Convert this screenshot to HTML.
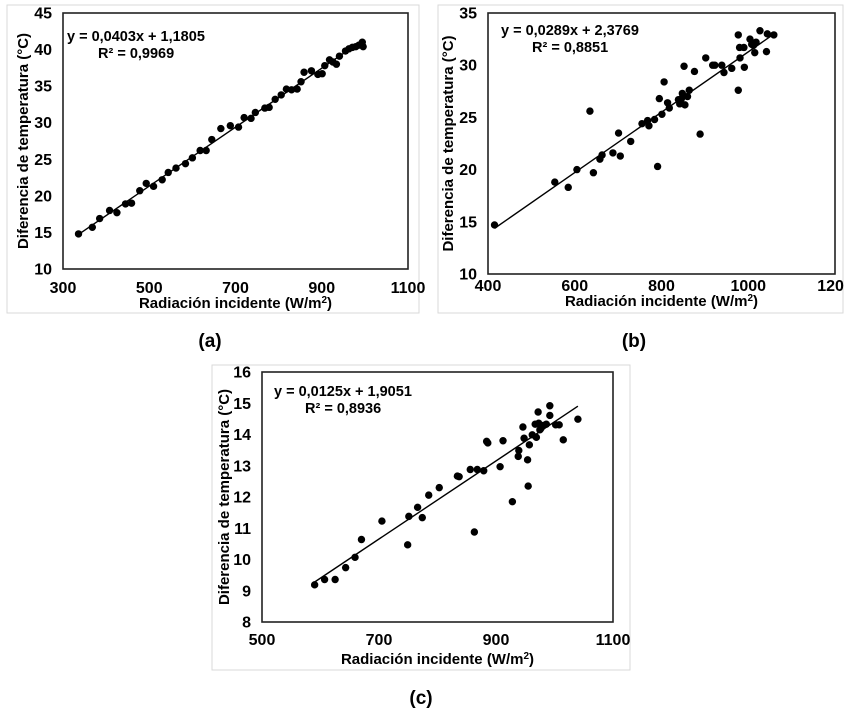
<!DOCTYPE html>
<html><head><meta charset="utf-8"><style>
html,body{margin:0;padding:0;background:#fff;}
svg{display:block;font-family:"Liberation Sans",Arial,sans-serif;font-weight:bold;}
</style></head><body>
<svg id="fig" width="844" height="712" viewBox="0 0 844 712" xmlns="http://www.w3.org/2000/svg">
<rect x="7" y="5" width="412" height="308" fill="none" stroke="#d9d9d9"/>
<rect x="438" y="5" width="405" height="308" fill="none" stroke="#d9d9d9"/>
<rect x="212" y="365" width="418" height="305" fill="none" stroke="#d9d9d9"/>
<text x="210" y="347" font-size="19" text-anchor="middle">(a)</text>
<text x="634" y="347" font-size="19" text-anchor="middle">(b)</text>
<text x="421" y="704" font-size="19" text-anchor="middle">(c)</text>
</svg>
<script>
const aX=[336,368,385,408,425,445,459,478,493,510,530,544,562,584,600,618,632,645,666,688,707,720,736,746,768,778,792,806,818,830,843,852,859,876,891,901,907,918,926,934,941,955,963,971,979,986,994,996];
const aY=[14.8,15.7,16.9,18.0,17.7,18.9,19.0,20.7,21.7,21.3,22.2,23.2,23.8,24.4,25.2,26.2,26.2,27.7,29.2,29.6,29.4,30.7,30.6,31.4,32.0,32.1,33.2,33.8,34.6,34.5,34.6,35.6,36.9,37.1,36.6,36.7,37.8,38.6,38.3,38.0,39.1,39.8,40.1,40.3,40.4,40.6,41.0,40.4];
const bX=[415,554,585,605,643,635,658,663,688,701,705,729,755,768,771,784,791,795,801,806,814,818,839,842,846,848,852,854,860,864,876,889,902,918,923,939,944,962,977,977,980,981,990,991,1004,1008,1015,1027,1042,1044,1059,1012,1018];
const bY=[14.7,18.8,18.3,20.0,19.7,25.6,21.0,21.4,21.6,23.5,21.3,22.7,24.4,24.7,24.2,24.8,20.3,26.8,25.3,28.4,26.4,25.9,26.7,26.3,26.8,27.3,29.9,26.2,27.0,27.6,29.4,23.4,30.7,30.0,30.0,30.0,29.3,29.7,32.9,27.6,31.7,30.7,31.7,29.8,32.5,32.0,31.2,33.3,31.3,33.0,32.9,31.9,32.2];
const cX=[590,607,625,643,659,670,705,749,751,766,774,785,803,834,837,856,863,868,879,884,886,907,912,928,938,939,946,948,954,955,957,962,967,969,972,973,975,977,981,986,992,992,1002,1008,1015,1040];
const cY=[9.19,9.36,9.36,9.74,10.07,10.64,11.23,10.47,11.38,11.67,11.34,12.06,12.30,12.67,12.65,12.88,10.88,12.88,12.84,13.78,13.73,12.97,13.80,11.85,13.30,13.49,14.24,13.88,13.19,12.35,13.67,13.99,14.33,13.91,14.72,14.36,14.15,14.20,14.29,14.33,14.92,14.61,14.31,14.31,13.83,14.49];
const aXTicks=[300,500,700,900,1100], aYTicks=[10,15,20,25,30,35,40,45];
const bXTicks=[400,600,800,1000,1200], bYTicks=[10,15,20,25,30,35];
const cXTicks=[500,700,900,1100], cYTicks=[8,9,10,11,12,13,14,15,16];
const aFit=[0.0403,1.1805], bFit=[0.0289,2.3769], cFit=[0.0125,1.9051];
const aEq=["y = 0,0403x + 1,1805","R² = 0,9969"], bEq=["y = 0,0289x + 2,3769","R² = 0,8851"], cEq=["y = 0,0125x + 1,9051","R² = 0,8936"];

const NS="http://www.w3.org/2000/svg", svg=document.getElementById('fig');
function mk(tag,attrs,parent){const e=document.createElementNS(NS,tag);for(const k in attrs)e.setAttribute(k,attrs[k]);(parent||svg).appendChild(e);return e;}
function chart(id,box,xs,ys,xT,yT,fit,eq,cfg){
  const g=mk('g',{});
  
  
  const x0=xT[0],x1=xT[xT.length-1],y0=yT[0],y1=yT[yT.length-1];
  const sx=v=>box.l+(v-x0)/(x1-x0)*(box.r-box.l);
  const sy=v=>box.b-(v-y0)/(y1-y0)*(box.b-box.t);
  const r=mk('rect',{x:box.l,y:box.t,width:box.r-box.l,height:box.b-box.t,fill:'none',stroke:'#222','stroke-width':1.6},g);
  
  
  xT.forEach(v=>{const t=mk('text',{x:sx(v),y:cfg.xtY,'font-size':16,'text-anchor':'middle'},g);t.textContent=v;
    
    });
  yT.forEach(v=>{const t=mk('text',{x:box.l-11,y:sy(v)+5.5,'font-size':16,'text-anchor':'end'},g);t.textContent=v;
    
    });
  const xt=mk('text',{x:(box.l+box.r)/2,y:cfg.xTitleY,'font-size':15,'text-anchor':'middle'},g);
  xt.innerHTML='Radiación incidente (W/m<tspan font-size="10" dy="-5">2</tspan><tspan dy="5">)</tspan>';
  
  
  const yc=(box.t+box.b)/2;
  const yt=mk('text',{x:cfg.yTitleX,y:yc,'font-size':15,'text-anchor':'middle',transform:`rotate(-90 ${cfg.yTitleX} ${yc})`},g);
  yt.textContent='Diferencia de temperatura (°C)';
  
  
  const xmin=Math.min(...xs),xmax=Math.max(...xs);
  const ln=mk('line',{x1:sx(xmin),y1:sy(fit[0]*xmin+fit[1]),x2:sx(xmax),y2:sy(fit[0]*xmax+fit[1]),stroke:'#000','stroke-width':1.4},g);
  
  
  xs.forEach((v,i)=>{const c=mk('circle',{cx:sx(v),cy:sy(ys[i]),r:3.7,fill:'#000'},g);
    
    });
  const e1=mk('text',{x:cfg.eqX,y:cfg.eqY,'font-size':14.5},g);e1.textContent=eq[0];
  
  
  const e2=mk('text',{x:cfg.eqX+31,y:cfg.eqY+17,'font-size':14.5},g);e2.textContent=eq[1];
  
  
}
chart('a',{l:63,r:408,t:13,b:269},aX,aY,aXTicks,aYTicks,aFit,aEq,{xtY:293,xTitleY:308,yTitleX:28,eqX:67,eqY:41});
chart('b',{l:488,r:835,t:13,b:274},bX,bY,bXTicks,bYTicks,bFit,bEq,{xtY:291,xTitleY:306,yTitleX:453,eqX:501,eqY:35});
chart('c',{l:262,r:613,t:372,b:622},cX,cY,cXTicks,cYTicks,cFit,cEq,{xtY:645,xTitleY:664,yTitleX:229,eqX:274,eqY:396});
</script>
</body></html>
